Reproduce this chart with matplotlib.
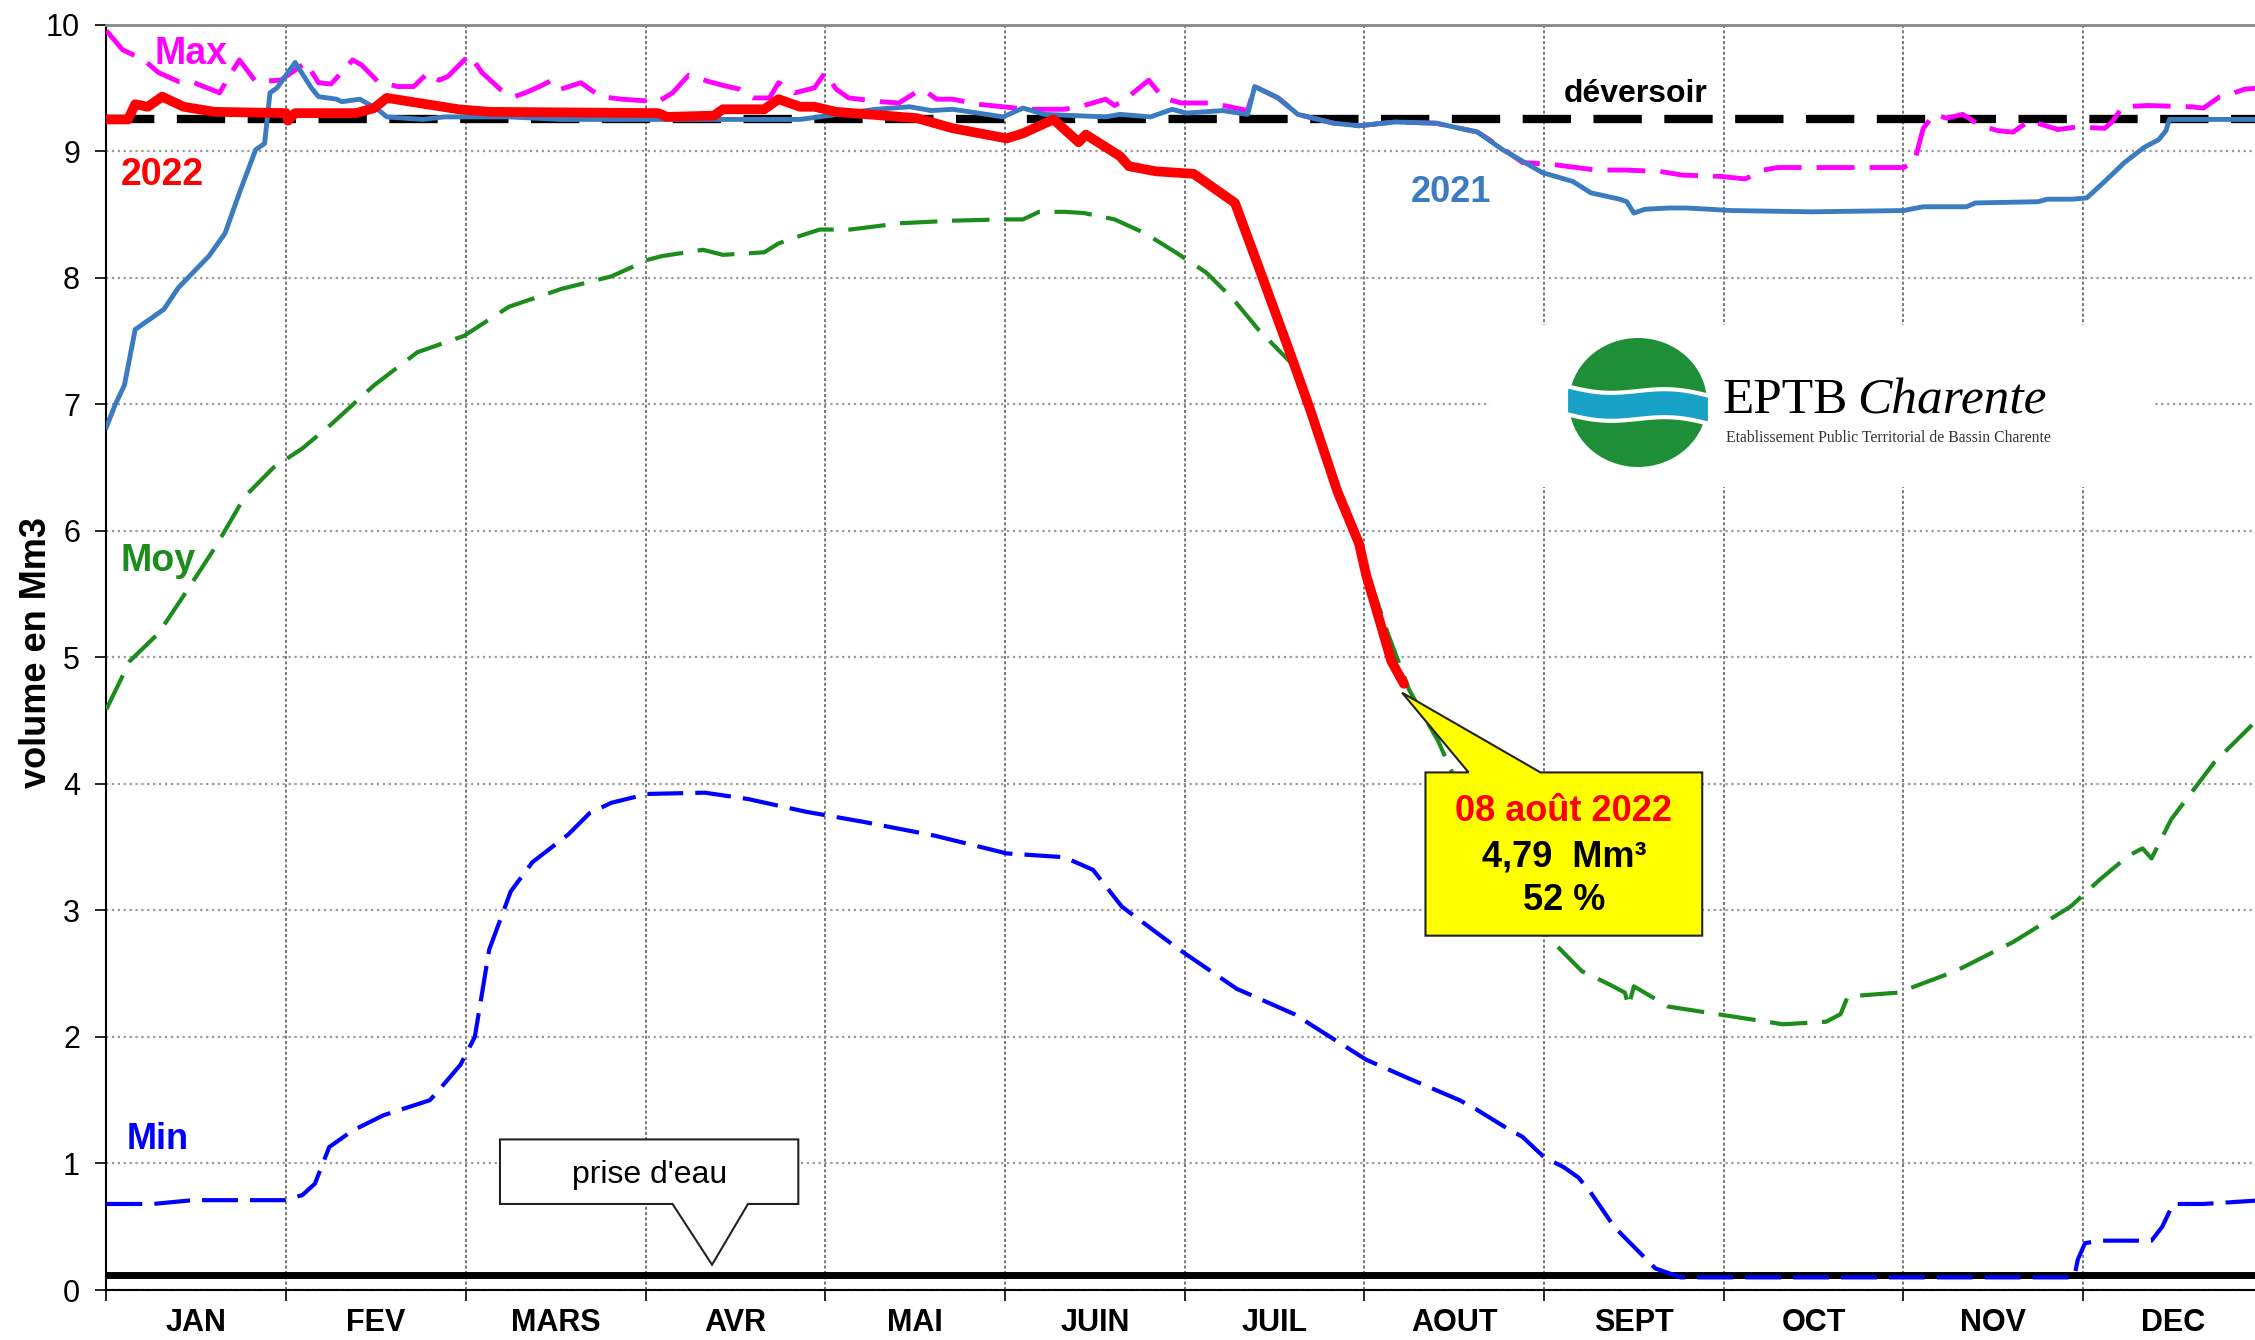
import numpy as np
import matplotlib.pyplot as plt
from matplotlib.patches import Polygon, Ellipse

plt.rcParams['font.family'] = ['Liberation Sans', 'DejaVu Sans']

# x values are in months (0 = 1 Jan, 12 = 31 Dec)
months = ['JAN', 'FEV', 'MARS', 'AVR', 'MAI', 'JUIN', 'JUIL', 'AOUT', 'SEPT', 'OCT', 'NOV', 'DEC']

x_2022 = [0, 0.12, 0.16, 0.23, 0.31, 0.43, 0.60, 1.0, 1.01, 1.05, 1.39, 1.49, 1.56, 1.96, 2.13,
          3.07, 3.12, 3.38, 3.43, 3.66, 3.74, 3.86, 3.94, 4.06, 4.51, 4.71, 5.01, 5.10, 5.27, 5.41,
          5.45, 5.64, 5.69, 5.84, 6.05, 6.28, 6.41, 6.58, 6.70, 6.85, 6.97, 7.01, 7.07, 7.15, 7.22]
y_2022 = [9.25, 9.25, 9.37, 9.35, 9.43, 9.35, 9.31, 9.30, 9.24, 9.30, 9.30, 9.34, 9.42, 9.33, 9.31,
          9.30, 9.27, 9.28, 9.33, 9.33, 9.41, 9.35, 9.35, 9.31, 9.26, 9.18, 9.10, 9.14, 9.25, 9.07,
          9.13, 8.96, 8.88, 8.84, 8.82, 8.59, 8.09, 7.43, 6.95, 6.31, 5.90, 5.65, 5.36, 4.97, 4.79]

x_2021 = [0, 0.05, 0.10, 0.16, 0.32, 0.40, 0.57, 0.66, 0.74, 0.83, 0.88, 0.91, 0.95, 1.05, 1.14,
          1.18, 1.28, 1.31, 1.41, 1.51, 1.56, 1.76, 1.88, 2.24, 2.53, 3.09, 3.86, 4.28, 4.47, 4.59,
          4.71, 4.99, 5.10, 5.22, 5.56, 5.64, 5.81, 5.93, 6.01, 6.21, 6.35, 6.39, 6.52, 6.63, 6.83,
          6.97, 7.17, 7.40, 7.63, 7.77, 7.99, 8.16, 8.26, 8.42, 8.46, 8.50, 8.56, 8.69, 8.80, 9.04,
          9.49, 10.0, 10.11, 10.35, 10.40, 10.75, 10.80, 10.94, 11.02, 11.12, 11.23, 11.34, 11.42,
          11.46, 11.48, 12.0]
y_2021 = [6.82, 7.0, 7.15, 7.59, 7.75, 7.92, 8.17, 8.35, 8.67, 9.01, 9.06, 9.46, 9.50, 9.70, 9.50,
          9.43, 9.41, 9.39, 9.41, 9.33, 9.27, 9.25, 9.27, 9.27, 9.25, 9.25, 9.25, 9.33, 9.35, 9.32,
          9.33, 9.27, 9.34, 9.29, 9.27, 9.29, 9.27, 9.33, 9.30, 9.32, 9.29, 9.51, 9.42, 9.29, 9.22,
          9.20, 9.23, 9.22, 9.15, 9.01, 8.83, 8.76, 8.67, 8.62, 8.60, 8.51, 8.54, 8.55, 8.55, 8.53,
          8.52, 8.53, 8.56, 8.56, 8.59, 8.60, 8.62, 8.62, 8.63, 8.76, 8.91, 9.03, 9.09,
          9.16, 9.25, 9.25]

x_max = [0.0, 0.09, 0.15, 0.20, 0.29, 0.40, 0.47, 0.63, 0.67, 0.74, 0.83, 0.97, 1.04, 1.11, 1.18,
         1.25, 1.37, 1.42, 1.51, 1.62, 1.71, 1.79, 1.85, 1.90, 2.02, 2.09, 2.19, 2.27, 2.33, 2.41,
         2.48, 2.53, 2.64, 2.75, 2.87, 3.07, 3.15, 3.24, 3.35, 3.43, 3.52, 3.60, 3.69, 3.74, 3.83,
         3.94, 4.0, 4.06, 4.13, 4.31, 4.41, 4.50, 4.55, 4.62, 4.71, 4.85, 4.99, 5.13, 5.33, 5.44,
         5.56, 5.61, 5.67, 5.80, 5.88, 5.98, 6.15, 6.35, 6.39, 6.52, 6.63, 6.83, 6.97, 7.17, 7.40,
         7.63, 7.77, 7.88, 8.07, 8.18, 8.29, 8.45, 8.64, 8.77, 8.98, 9.12, 9.22, 9.30, 9.63, 10.0,
         10.06, 10.11, 10.17, 10.24, 10.33, 10.43, 10.53, 10.61, 10.70, 10.86, 10.96, 11.12, 11.16,
         11.22, 11.36, 11.60, 11.67, 11.76, 11.82, 11.90, 12.0]
y_max = [9.95, 9.80, 9.76, 9.73, 9.62, 9.55, 9.55, 9.46, 9.56, 9.72, 9.55, 9.56, 9.63, 9.70, 9.54,
         9.53, 9.72, 9.68, 9.55, 9.51, 9.51, 9.62, 9.56, 9.59, 9.76, 9.62, 9.49, 9.43, 9.46, 9.51,
         9.56, 9.49, 9.54, 9.43, 9.41, 9.39, 9.46, 9.60, 9.55, 9.52, 9.49, 9.42, 9.42, 9.54, 9.46,
         9.50, 9.62, 9.49, 9.42, 9.39, 9.38, 9.46, 9.48, 9.41, 9.41, 9.37, 9.35, 9.33, 9.33, 9.36,
         9.41, 9.36, 9.41, 9.56, 9.42, 9.38, 9.38, 9.32, 9.51, 9.42, 9.29, 9.22, 9.20, 9.23, 9.22,
         9.15, 9.02, 8.91, 8.89, 8.87, 8.85, 8.85, 8.84, 8.81, 8.80, 8.78, 8.85, 8.87, 8.87, 8.87,
         8.91, 9.18, 9.29, 9.26, 9.29, 9.20, 9.16, 9.15, 9.24, 9.17, 9.19, 9.18, 9.23,
         9.35, 9.36, 9.35, 9.34, 9.43, 9.45, 9.49, 9.50]

x_moy = [0, 0.13, 0.29, 0.45, 0.61, 0.77, 0.93, 1.09, 1.25, 1.49, 1.73, 1.99, 2.24, 2.53, 2.81,
         2.92, 3.01, 3.09, 3.32, 3.43, 3.66, 3.74, 3.86, 3.97, 4.14, 4.42, 4.71, 4.99, 5.10, 5.19,
         5.33, 5.44, 5.61, 5.78, 5.95, 6.12, 6.27, 6.41, 6.61, 6.73, 6.85, 7.01, 7.13, 7.25, 7.41,
         7.57, 7.73, 7.89, 8.05, 8.21, 8.37, 8.45, 8.47, 8.50, 8.69, 9.01, 9.33, 9.57, 9.65, 9.69,
         9.97, 10.29, 10.61, 10.93, 11.09, 11.25, 11.33, 11.38, 11.49, 11.73, 12.0]
y_moy = [4.59, 4.97, 5.19, 5.53, 5.88, 6.27, 6.50, 6.65, 6.84, 7.15, 7.41, 7.54, 7.77, 7.91, 8.01,
         8.08, 8.14, 8.17, 8.22, 8.18, 8.20, 8.27, 8.33, 8.38, 8.38, 8.43, 8.45, 8.46, 8.46, 8.52,
         8.52, 8.51, 8.46, 8.35, 8.20, 8.04, 7.83, 7.59, 7.30, 6.78, 6.33, 5.70, 5.19, 4.74, 4.34,
         3.83, 3.38, 3.03, 2.75, 2.52, 2.41, 2.35, 2.24, 2.40, 2.24, 2.17, 2.10, 2.12, 2.18, 2.32,
         2.35, 2.52, 2.75, 3.03, 3.24, 3.43, 3.49, 3.41, 3.72, 4.17, 4.55]

x_min = [0, 0.26, 0.48, 0.99, 1.09, 1.16, 1.24, 1.37, 1.54, 1.80, 1.85, 1.97, 2.05, 2.13, 2.25,
         2.37, 2.57, 2.69, 2.81, 3.01, 3.33, 3.57, 3.89, 4.21, 4.61, 5.01, 5.33, 5.49, 5.65, 5.97,
         6.29, 6.61, 7.01, 7.25, 7.53, 7.62, 7.78, 7.88, 8.00, 8.11, 8.19, 8.25, 8.39, 8.48, 8.62,
         8.76, 10.95, 10.97, 11.01, 11.09, 11.38, 11.44, 11.50, 11.67, 12.0]
y_min = [0.68, 0.68, 0.71, 0.71, 0.75, 0.84, 1.13, 1.26, 1.38, 1.50, 1.58, 1.78, 2.00, 2.69, 3.15,
         3.38, 3.60, 3.77, 3.85, 3.92, 3.93, 3.88, 3.78, 3.70, 3.59, 3.45, 3.42, 3.32, 3.03, 2.69,
         2.38, 2.18, 1.82, 1.67, 1.50, 1.43, 1.29, 1.21, 1.05, 0.97, 0.89, 0.79, 0.50, 0.37, 0.17,
         0.10, 0.10, 0.24, 0.37, 0.39, 0.39, 0.50, 0.68, 0.68, 0.71]

deversoir = 9.25
prise_eau = 0.12
capacity = 9.25

C_2021 = '#3b7bbf'
C_MOY = '#1c8c1c'


def callout(ax, x0, x1, y0, y1, b1, b2, tip, side, fc):
    """box with a pointer, side = edge carrying the pointer"""
    if side == 'top':
        pts = [(x0, y0), (x1, y0), (x1, y1), (b2, y1), tip, (b1, y1), (x0, y1)]
    else:
        pts = [(x0, y1), (x1, y1), (x1, y0), (b2, y0), tip, (b1, y0), (x0, y0)]
    ax.add_patch(Polygon(pts, closed=True, fc=fc, ec='#222222', lw=1.5, zorder=10))


fig = plt.figure(figsize=(22.55, 13.4), dpi=100)
ax = fig.add_axes([0.0472, 0.0373, 0.9563, 0.9444])
ax.set_xlim(0, 12)
ax.set_ylim(0, 10)

# reference levels
ax.axhline(deversoir, color='black', lw=6, dashes=(5.8, 2.7), zorder=3)
ax.axhline(prise_eau, color='black', lw=5, zorder=3)

ax.plot(x_max, y_max, color='#ff00ff', lw=3.5, dashes=(7.8, 3.1), zorder=4)
ax.plot(x_moy, y_moy, color=C_MOY, lw=3, dashes=(9, 3.5), zorder=4)
ax.plot(x_min, y_min, color='#0000ff', lw=3, dashes=(8.6, 2.9), zorder=4)
ax.plot(x_2021, y_2021, color=C_2021, lw=3.5, zorder=5)
ax.plot(x_2022, y_2022, color='#ff0000', lw=7, zorder=6, solid_capstyle='round')

# grid and axes
ax.set_xticks(range(13))
ax.set_xticks([m + 0.5 for m in range(12)], minor=True)
ax.set_xticklabels([])
ax.set_xticklabels(months, minor=True, fontsize=22, fontweight='bold')
ax.tick_params(axis='x', which='major', length=8, width=1.2, direction='out')
ax.tick_params(axis='x', which='minor', length=0, pad=13)
ax.set_yticks(range(11))
ax.tick_params(axis='y', labelsize=22, length=8, width=1.2, pad=11)
ax.grid(axis='y', color='#999999', lw=1.6, linestyle=':')
ax.grid(axis='x', color='#555555', lw=1.1, linestyle=(0, (2, 1.5)))
ax.set_axisbelow(True)
ax.spines['top'].set_color('#888888')
ax.spines['top'].set_linewidth(2)
ax.spines['right'].set_visible(False)
ax.spines['left'].set_linewidth(1.5)
ax.spines['bottom'].set_linewidth(1.5)

fig.text(0.016, 0.513, 'volume en Mm3', rotation=90, fontsize=26, fontweight='bold',
         ha='center', va='center')

# series labels
ax.text(0.27, 9.77, 'Max', color='#ff00ff', fontsize=27, fontweight='bold', va='center', zorder=8)
ax.text(0.08, 8.81, '2022', color='#ff0000', fontsize=27, fontweight='bold', va='center', zorder=8)
ax.text(0.08, 5.76, 'Moy', color=C_MOY, fontsize=27, fontweight='bold', va='center', zorder=8)
ax.text(0.11, 1.19, 'Min', color='#0000ff', fontsize=26, fontweight='bold', va='center', zorder=8)
ax.text(7.26, 8.67, '2021', color=C_2021, fontsize=26, fontweight='bold', va='center', zorder=8)
ax.text(8.11, 9.45, 'déversoir', color='black', fontsize=23, fontweight='bold', va='center', zorder=8)

# prise d'eau callout
callout(ax, 2.19, 3.85, 0.68, 1.19, 3.15, 3.57, (3.37, 0.20), 'bottom', 'white')
ax.text(3.02, 0.91, "prise d'eau", fontsize=23, ha='center', va='center', zorder=11)

# last value callout
x_end, y_end = x_2022[-1], y_2022[-1]
callout(ax, 7.34, 8.88, 2.80, 4.09, 7.58, 7.98, (x_end - 0.01, y_end - 0.07), 'top', '#ffff00')
ax.text(8.11, 3.78, '08 août 2022', color='#ff0000', fontsize=26, fontweight='bold',
        ha='center', va='center', zorder=11)
ax.text(8.11, 3.42, ('%.2f' % y_end).replace('.', ',') + '  Mm³', fontsize=26, fontweight='bold',
        ha='center', va='center', zorder=11)
ax.text(8.11, 3.08, '%d %%' % round(100 * y_end / capacity), fontsize=26, fontweight='bold',
        ha='center', va='center', zorder=11)

# EPTB logo, drawn in pixel units of its own box
lax = fig.add_axes([1490 / 2255, 1 - 487 / 1340, 663 / 2255, 162 / 1340], zorder=5)
lax.set_xlim(0, 663)
lax.set_ylim(162, 0)
lax.set_facecolor('white')
lax.set_xticks([])
lax.set_yticks([])
for s in lax.spines.values():
    s.set_visible(False)
lax.add_patch(Ellipse((148, 77.5), 138, 129, fc='#1e8f38', ec='none'))
t = np.linspace(0, 1, 80)
bx = 76 + 144 * t
bc = 75 + 10 * t + 4 * np.sin(2 * np.pi * t)
band = np.column_stack([np.r_[bx, bx[::-1]], np.r_[bc - 14, (bc + 14)[::-1]]])
lax.add_patch(Polygon(band, closed=True, fc='#19a2c8', ec='white', lw=3))
lax.text(233, 88, 'EPTB', family=['Liberation Serif', 'DejaVu Serif'], fontsize=37,
         va='baseline', ha='left')
lax.text(367, 88, 'Charente', family=['Liberation Serif', 'DejaVu Serif'], fontsize=37,
         style='italic', va='baseline', ha='left')
lax.text(236, 113, 'Etablissement Public Territorial de Bassin Charente',
         family=['Liberation Serif', 'DejaVu Serif'], fontsize=11.3, color='#333333',
         va='center', ha='left')

fig.savefig('out.png', dpi=100)
